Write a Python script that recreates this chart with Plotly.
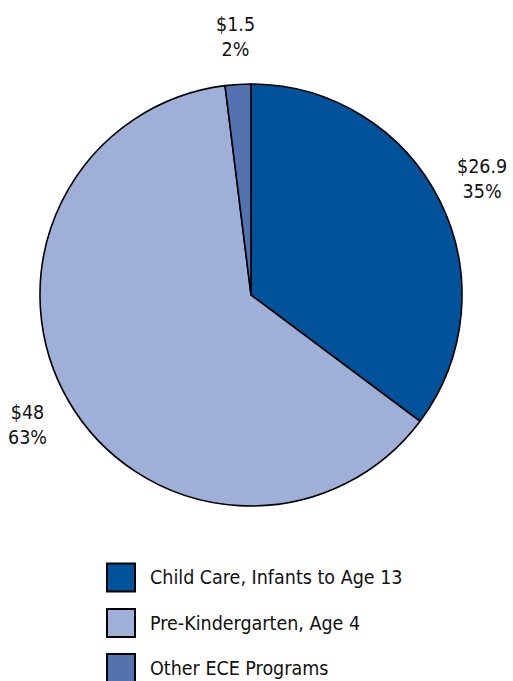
import math
import plotly.graph_objects as go

categories = ["Child Care, Infants to Age 13", "Pre-Kindergarten, Age 4", "Other ECE Programs"]
values = [26.9, 48, 1.5]
value_labels = ["$26.9", "$48", "$1.5"]
colors = ["#00529B", "#9FB0D8", "#5273B0"]

W, H = 513, 681
FONT = "DejaVu Sans Condensed, Liberation Sans Narrow, sans-serif"
FS = 19.5

cx, cy, r = 251, 295, 211
label_r = 258

fig = go.Figure(go.Pie(
    labels=categories,
    values=values,
    textinfo="none",
    marker=dict(colors=colors, line=dict(color="#000000", width=1.6)),
    sort=False,
    direction="clockwise",
    rotation=0,
    showlegend=False,
    hoverinfo="label+value+percent",
    domain=dict(x=[(cx - r) / W, (cx + r) / W], y=[1 - (cy + r) / H, 1 - (cy - r) / H]),
))

shapes = []
annotations = []

# slice labels placed radially at each slice's mid-angle
total = sum(values)
cum = 0.0
for v, vl in zip(values, value_labels):
    theta = 2 * math.pi * (cum + v / 2) / total
    cum += v
    px = cx + label_r * math.sin(theta)
    py = cy - label_r * math.cos(theta)
    pct = round(100 * v / total)
    annotations.append(dict(xref="paper", yref="paper", x=px / W, y=1 - py / H,
                            xanchor="center", yanchor="middle", showarrow=False,
                            align="center", text=f"{vl}<br>{pct}%",
                            font=dict(family=FONT, size=FS, color="#111111")))

# legend
row_centers = [577.5, 623, 668]
for cat, col, yc in zip(categories, colors, row_centers):
    shapes.append(dict(type="rect", xref="paper", yref="paper",
                       x0=107 / W, x1=135 / W,
                       y0=1 - (yc + 14) / H, y1=1 - (yc - 14) / H,
                       fillcolor=col, line=dict(color="#000000", width=2)))
    annotations.append(dict(xref="paper", yref="paper", x=148 / W, y=1 - yc / H,
                            xanchor="left", yanchor="middle", showarrow=False,
                            text=cat, font=dict(family=FONT, size=FS, color="#111111")))

fig.update_layout(
    width=W, height=H,
    margin=dict(l=0, r=0, t=0, b=0),
    paper_bgcolor="white",
    plot_bgcolor="white",
    shapes=shapes,
    annotations=annotations,
)

fig.write_html("out.html")
